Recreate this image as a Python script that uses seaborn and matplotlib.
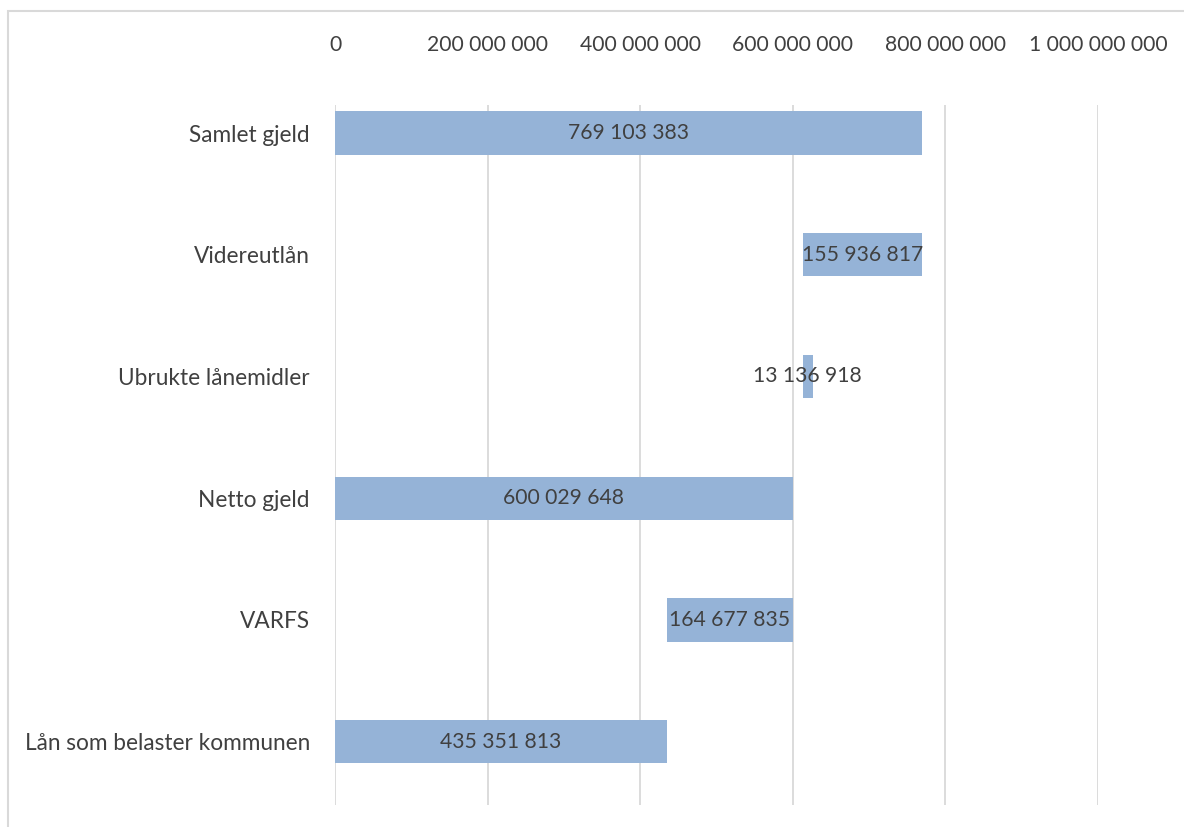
import matplotlib.pyplot as plt
import seaborn as sns
import pandas as pd
from matplotlib.patches import Rectangle

categories = ['Samlet gjeld', 'Videreutlån', 'Ubrukte lånemidler',
              'Netto gjeld', 'VARFS', 'Lån som belaster kommunen']
values = [769103383, 155936817, 13136918, 600029648, 164677835, 435351813]
# invisible starting point of each floating bar (as drawn in the original)
bases = [0, 613166566, 613166566, 0, 435351813, 0]
tick_values = [0, 200000000, 400000000, 600000000, 800000000, 1000000000]

def fmt(v):
    return f'{v:,.0f}'.replace(',', ' ')

df = pd.DataFrame({'category': categories, 'value': values, 'base': bases})
df['end'] = df['base'] + df['value']

sns.set_style('white')
plt.rcParams['font.family'] = ['Lato', 'DejaVu Sans']
text_color = '#404040'
bar_color = '#95B3D7'

fig = plt.figure(figsize=(11.84, 8.27), dpi=100)
ax = fig.add_axes([335 / 1184, 1 - 805 / 827, (1098 - 335) / 1184, (805 - 105) / 827])

sns.barplot(data=df, y='category', x='end', orient='h', color=bar_color,
            width=0.355, saturation=1, ax=ax)

# turn the bars into floating waterfall segments
for patch, b, v in zip(ax.patches, df['base'], df['value']):
    patch.set_x(b)
    patch.set_width(v)
    patch.set_edgecolor('none')

for i, (b, v) in enumerate(zip(df['base'], df['value'])):
    ax.text(b + v / 2, i, fmt(v), ha='center', va='center',
            fontsize=15.2, color=text_color)

ax.set_xlim(0, 1000000000)
ax.set_ylim(5.52, -0.23)
ax.set_xticks(tick_values)
ax.set_xticklabels([fmt(t) for t in tick_values])
ax.xaxis.tick_top()
ax.tick_params(axis='x', length=0, pad=36, labelsize=15.2, colors=text_color)
ax.tick_params(axis='y', length=0, pad=18, labelsize=16.3, colors=text_color)
ax.set_xlabel('')
ax.set_ylabel('')
ax.grid(axis='x', color='#D9D9D9', linewidth=1.3)
ax.set_axisbelow(True)
sns.despine(ax=ax, left=True, right=True, top=True, bottom=True)

# outer chart frame (cropped at right and bottom)
fig.patches.append(Rectangle((8 / 1184, -0.1), 1.2, 1 - 11 / 827 + 0.1,
                             transform=fig.transFigure, fill=False,
                             edgecolor='#D9D9D9', linewidth=1.5))

fig.savefig('out.png', dpi=100)
